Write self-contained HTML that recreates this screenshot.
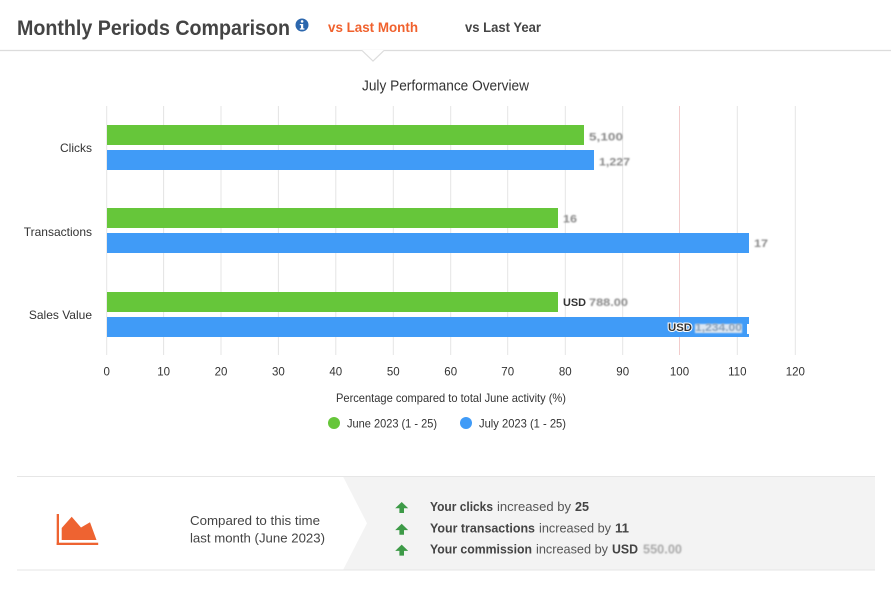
<!DOCTYPE html>
<html><head><meta charset="utf-8"><style>
html,body{margin:0;padding:0;background:#fff;}
svg{display:block;font-family:"Liberation Sans",sans-serif;}
</style></head><body>
<svg width="891" height="593" viewBox="0 0 891 593" xmlns="http://www.w3.org/2000/svg">
<defs><filter id="b" x="-10%" y="-30%" width="120%" height="160%"><feGaussianBlur stdDeviation="0.9"/></filter></defs>
<rect width="891" height="593" fill="#fff"/>
<!-- header -->
<text x="17" y="35" font-size="21" font-weight="bold" fill="#444" textLength="273" lengthAdjust="spacingAndGlyphs">Monthly Periods Comparison</text>
<circle cx="302" cy="25" r="6.5" fill="#2c67ad"/>
<rect x="301" y="24" width="2.2" height="5.5" fill="#fff"/>
<rect x="299.8" y="28.3" width="4.6" height="1.3" fill="#fff"/>
<rect x="299.8" y="24" width="2.5" height="1.2" fill="#fff"/>
<circle cx="302.1" cy="21.4" r="1.3" fill="#fff"/>
<text x="328" y="32" font-size="14" font-weight="bold" fill="#f0612d" textLength="90" lengthAdjust="spacingAndGlyphs">vs Last Month</text>
<text x="465" y="32" font-size="14" font-weight="bold" fill="#444" textLength="76" lengthAdjust="spacingAndGlyphs">vs Last Year</text>
<line x1="0" y1="50.5" x2="891" y2="50.5" stroke="#dcdcdc" stroke-width="1.2"/>
<polygon points="362,50 373,61 384,50" fill="#fff"/>
<polyline points="362,50.5 373,61 384,50.5" fill="none" stroke="#dcdcdc" stroke-width="1.2"/>
<!-- chart title -->
<text x="362" y="90.5" font-size="14.5" fill="#333" textLength="167" lengthAdjust="spacingAndGlyphs">July Performance Overview</text>
<!-- gridlines -->
<g stroke="#e4e4e4" stroke-width="1">
<line x1="106.7" y1="106" x2="106.7" y2="355"/>
<line x1="163.6" y1="106" x2="163.6" y2="355"/>
<line x1="221" y1="106" x2="221" y2="355"/>
<line x1="278.4" y1="106" x2="278.4" y2="355"/>
<line x1="335.8" y1="106" x2="335.8" y2="355"/>
<line x1="393.3" y1="106" x2="393.3" y2="355"/>
<line x1="450.7" y1="106" x2="450.7" y2="355"/>
<line x1="507.7" y1="106" x2="507.7" y2="355"/>
<line x1="565.3" y1="106" x2="565.3" y2="355"/>
<line x1="622.7" y1="106" x2="622.7" y2="355"/>
<line x1="737.3" y1="106" x2="737.3" y2="355"/>
<line x1="795.3" y1="106" x2="795.3" y2="355"/>
</g>
<line x1="679.5" y1="106" x2="679.5" y2="355" stroke="#f2cccc" stroke-width="1"/>
<!-- bars -->
<rect x="107" y="125" width="477" height="20" fill="#66c63a"/>
<rect x="107" y="150" width="487" height="20" fill="#409bf7"/>
<rect x="107" y="208" width="451" height="20" fill="#66c63a"/>
<rect x="107" y="233" width="642" height="20" fill="#409bf7"/>
<rect x="107" y="292" width="451" height="20" fill="#66c63a"/>
<rect x="107" y="317" width="642" height="20" fill="#409bf7"/>
<!-- category labels -->
<g font-size="12" fill="#333" text-anchor="end">
<text x="92" y="152">Clicks</text>
<text x="92" y="236">Transactions</text>
<text x="92" y="319">Sales Value</text>
</g>
<!-- data labels (blurred) -->
<g font-size="11" font-weight="bold" fill="#8a8a8a" filter="url(#b)">
<text x="589" y="140.5" textLength="34" lengthAdjust="spacingAndGlyphs">5,100</text>
<text x="599" y="165.5" textLength="31" lengthAdjust="spacingAndGlyphs">1,227</text>
<text x="563" y="222.5" textLength="14" lengthAdjust="spacingAndGlyphs">16</text>
<text x="754" y="247" textLength="14" lengthAdjust="spacingAndGlyphs">17</text>
<text x="589" y="306" textLength="39" lengthAdjust="spacingAndGlyphs">788.00</text>
</g>
<text x="563" y="306" font-size="11" font-weight="bold" fill="#333" textLength="23" lengthAdjust="spacingAndGlyphs">USD</text>
<text x="668" y="331" font-size="11" font-weight="bold" fill="#333" stroke="#fff" stroke-width="2" paint-order="stroke" textLength="24" lengthAdjust="spacingAndGlyphs">USD</text>
<rect x="695" y="324" width="47" height="9" fill="#dbe6f2" filter="url(#b)"/>
<text x="695" y="331" font-size="11" font-weight="bold" fill="#8aa0b8" filter="url(#b)" textLength="47" lengthAdjust="spacingAndGlyphs">1,234.00</text>
<rect x="747" y="324" width="2" height="10" fill="#fff"/>
<!-- tick labels -->
<g font-size="11.5" fill="#333" text-anchor="middle">
<text x="106.7" y="375.5">0</text>
<text x="163.6" y="375.5">10</text>
<text x="221" y="375.5">20</text>
<text x="278.4" y="375.5">30</text>
<text x="335.8" y="375.5">40</text>
<text x="393.3" y="375.5">50</text>
<text x="450.7" y="375.5">60</text>
<text x="507.7" y="375.5">70</text>
<text x="565.3" y="375.5">80</text>
<text x="622.7" y="375.5">90</text>
<text x="679.5" y="375.5">100</text>
<text x="737.3" y="375.5">110</text>
<text x="795.3" y="375.5">120</text>
</g>
<text x="336" y="402" font-size="12" fill="#333" textLength="230" lengthAdjust="spacingAndGlyphs">Percentage compared to total June activity (%)</text>
<!-- legend -->
<circle cx="334" cy="423" r="6" fill="#66c63a"/>
<text x="347" y="427.5" font-size="12" fill="#333" textLength="90" lengthAdjust="spacingAndGlyphs">June 2023 (1 - 25)</text>
<circle cx="466" cy="423" r="6" fill="#409bf7"/>
<text x="479" y="427.5" font-size="12" fill="#333" textLength="87" lengthAdjust="spacingAndGlyphs">July 2023 (1 - 25)</text>
<!-- bottom panel -->
<polygon points="343,476.5 875,476.5 875,570 343,570 367,523.3" fill="#f3f3f3"/>
<line x1="17" y1="476.5" x2="875" y2="476.5" stroke="#e6e6e6" stroke-width="1"/>
<line x1="17" y1="570" x2="875" y2="570" stroke="#e6e6e6" stroke-width="1"/>
<!-- icon -->
<rect x="56.7" y="514" width="2.3" height="31" fill="#ee6331"/>
<rect x="56.7" y="542.7" width="41.5" height="2.3" fill="#ee6331"/>
<polygon points="61.7,528 71.7,516.7 81,527.5 90,522.3 96.5,540 61.7,540" fill="#ee6331"/>
<text x="190" y="525" font-size="12.5" fill="#444" textLength="130" lengthAdjust="spacingAndGlyphs">Compared to this time</text>
<text x="190" y="542.7" font-size="12.5" fill="#444" textLength="135" lengthAdjust="spacingAndGlyphs">last month (June 2023)</text>
<!-- arrows -->
<g fill="#3d9a47">
<polygon points="401.7,502 408.2,508.3 404,508.3 404,513 399.4,513 399.4,508.3 395.2,508.3"/>
<polygon points="401.7,523.8 408.2,530.1 404,530.1 404,534.8 399.4,534.8 399.4,530.1 395.2,530.1"/>
<polygon points="401.7,544.6 408.2,550.9 404,550.9 404,555.6 399.4,555.6 399.4,550.9 395.2,550.9"/>
</g>
<g font-size="12.5">
<text x="430" y="511" font-weight="bold" fill="#444" textLength="63" lengthAdjust="spacingAndGlyphs">Your clicks</text>
<text x="497" y="511" fill="#555" textLength="74" lengthAdjust="spacingAndGlyphs">increased by</text>
<text x="575" y="511" font-weight="bold" fill="#444" textLength="14" lengthAdjust="spacingAndGlyphs">25</text>
<text x="430" y="532.7" font-weight="bold" fill="#444" textLength="105" lengthAdjust="spacingAndGlyphs">Your transactions</text>
<text x="539" y="532.7" fill="#555" textLength="72" lengthAdjust="spacingAndGlyphs">increased by</text>
<text x="615" y="532.7" font-weight="bold" fill="#444" textLength="14" lengthAdjust="spacingAndGlyphs">11</text>
<text x="430" y="553.3" font-weight="bold" fill="#444" textLength="102" lengthAdjust="spacingAndGlyphs">Your commission</text>
<text x="536" y="553.3" fill="#555" textLength="72" lengthAdjust="spacingAndGlyphs">increased by</text>
<text x="612" y="553.3" font-weight="bold" fill="#444" textLength="26" lengthAdjust="spacingAndGlyphs">USD</text>
<text x="643" y="553.3" font-weight="bold" fill="#aaa" filter="url(#b)" textLength="39" lengthAdjust="spacingAndGlyphs">550.00</text>
</g>
</svg>
</body></html>
